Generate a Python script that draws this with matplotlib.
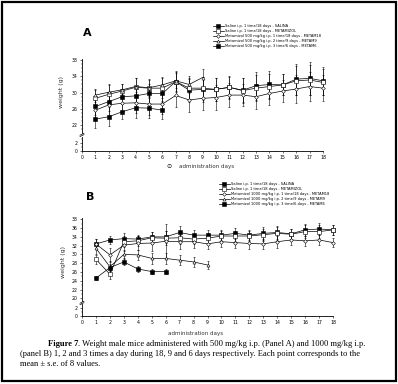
import matplotlib
matplotlib.use("Agg")
import matplotlib.pyplot as plt
from matplotlib.lines import Line2D
from matplotlib.patches import Rectangle

W, H = 398, 384

days = list(range(1, 19))
days9 = list(range(1, 10))
days6 = list(range(1, 7))

# ---- panel A (500 mg/kg) ----
labels_a = ["Saline i.p. 1 time/18 days - SALINA",
            "Saline i.p. 1 time/18 days - METAMIZOL",
            "Metamizol 500 mg/kg i.p. 1 time/18 days - METAM18",
            "Metamizol 500 mg/kg i.p. 2 time/9 days - METAM9",
            "Metamizol 500 mg/kg i.p. 3 time/6 days - METAM6"]
a_sal = [26.6, 27.8, 29.0, 29.2, 29.8, 29.8, 32.7, 30.6, 30.8, 30.8, 31.3, 30.6, 31.7, 32.0, 31.9, 33.3, 33.5, 32.9]
a_sal_err = [2.2, 2.4, 1.8, 2.6, 2.4, 2.2, 2.6, 2.8, 3.0, 2.8, 2.8, 3.0, 3.4, 3.2, 2.6, 3.8, 4.0, 3.4]
a_veh = [28.6, 29.6, 30.4, 31.3, 31.1, 31.1, 32.7, 31.1, 31.1, 30.8, 31.3, 30.5, 31.1, 31.5, 31.9, 32.9, 33.1, 32.5]
a_veh_err = [2.0, 2.2, 1.6, 2.4, 2.2, 2.4, 2.4, 2.6, 2.8, 2.8, 2.6, 3.0, 3.2, 3.0, 2.6, 3.6, 3.8, 3.2]
a_m18 = [25.7, 27.0, 27.4, 27.5, 27.2, 27.2, 29.3, 28.2, 28.6, 28.8, 29.4, 29.4, 29.0, 29.8, 30.4, 30.9, 31.5, 31.1]
a_m18_err = [2.4, 2.6, 2.2, 2.6, 2.6, 2.4, 2.8, 3.0, 2.8, 3.0, 3.0, 2.8, 3.0, 2.8, 2.6, 3.4, 3.6, 3.2]
a_m9 = [29.4, 30.1, 30.7, 31.5, 31.2, 31.9, 32.9, 32.0, 33.7]
a_m9_err = [1.6, 2.0, 1.4, 2.2, 2.0, 2.0, 1.8, 2.2, 2.2]
a_m6 = [23.5, 24.1, 25.3, 26.3, 26.2, 25.7]
a_m6_err = [2.2, 2.4, 1.8, 2.6, 2.4, 2.2]

# ---- panel B (1000 mg/kg) ----
labels_b = ["Saline i.p. 1 time/18 days - SALINA",
            "Saline i.p. 1 time/18 days - METAMIZOL",
            "Metamizol 1000 mg/kg i.p. 1 time/18 days - METAM18",
            "Metamizol 1000 mg/kg i.p. 2 time/9 days - METAM9",
            "Metamizol 1000 mg/kg i.p. 3 time/6 days - METAM6"]
b_sal = [32.4, 33.3, 33.6, 33.5, 34.0, 34.0, 35.0, 34.4, 34.4, 34.4, 34.8, 34.4, 34.8, 35.0, 34.7, 35.6, 35.8, 35.6]
b_sal_err = [1.2, 1.0, 1.2, 1.0, 1.2, 1.4, 1.4, 1.2, 1.2, 1.2, 1.2, 1.2, 1.4, 1.4, 1.2, 1.4, 1.4, 1.2]
b_veh = [28.9, 25.5, 32.9, 33.1, 33.8, 33.7, 33.8, 33.5, 33.7, 34.2, 34.2, 34.2, 34.5, 34.8, 34.6, 35.2, 35.2, 35.6]
b_veh_err = [1.0, 1.0, 1.2, 1.2, 1.4, 1.6, 1.4, 1.2, 1.2, 1.2, 1.2, 1.2, 1.4, 1.4, 1.2, 1.4, 1.4, 1.2]
b_m18 = [32.4, 29.9, 32.1, 32.5, 32.6, 33.0, 32.9, 32.9, 32.4, 32.9, 32.7, 32.5, 32.4, 32.9, 33.3, 33.1, 33.3, 32.7]
b_m18_err = [1.2, 1.6, 1.4, 1.6, 1.8, 4.0, 1.6, 1.4, 1.2, 1.2, 1.2, 1.2, 1.2, 1.4, 1.2, 1.2, 1.2, 1.0]
b_m9 = [31.4, 27.2, 30.0, 29.9, 29.1, 29.1, 28.7, 28.3, 27.6]
b_m9_err = [1.2, 1.4, 1.0, 1.2, 1.2, 1.2, 1.2, 1.2, 1.0]
b_m6 = [24.6, 27.0, 28.3, 26.7, 26.1, 26.1]
b_m6_err = [0.5, 0.8, 0.8, 0.7, 0.6, 0.6]

markers = [("s", "black", 2.4), ("s", "white", 2.6), ("D", "white", 1.9), ("^", "white", 2.2), ("s", "black", 2.2)]

fig = plt.figure(figsize=(W / 100, H / 100), dpi=100)
fig.patch.set_facecolor("white")
fig.add_artist(Rectangle((1.5 / W, 1 - 381 / H), 394 / W, 379.5 / H, transform=fig.transFigure,
                         fill=False, lw=1.6, ec="black"))


def px_axes(x0, y0, x1, y1):
    return fig.add_axes([x0 / W, 1 - y1 / H, (x1 - x0) / W, (y1 - y0) / H])


def panel(x0, x1, top_px, brk_px, low_top, zero_px, ylim_up, yticks_up, series, labels, letter, letter_xy,
          leg_xy, ylab_xy, xlab_x, xlab_y):
    up = px_axes(x0, top_px, x1, brk_px)
    lo = px_axes(x0, low_top, x1, zero_px)
    for ax in (up, lo):
        ax.set_facecolor("none")
        ax.set_xlim(0, 18)
        for s in ("top", "right"):
            ax.spines[s].set_visible(False)
        ax.spines["left"].set_linewidth(0.6)
        ax.spines["bottom"].set_linewidth(0.6)
        ax.tick_params(length=1.5, width=0.4, labelsize=3.3, pad=1.5)
        ax.tick_params(which="minor", length=0.8, width=0.3)
    up.spines["bottom"].set_visible(False)
    up.tick_params(axis="x", which="both", bottom=False, labelbottom=False)
    up.set_ylim(*ylim_up)
    up.set_yticks(yticks_up)
    up.set_yticks(range(int(ylim_up[0]) + 1, int(ylim_up[1]) + 1), minor=True)
    lo.set_ylim(0, (zero_px - low_top) / 4.0)
    lo.set_yticks([0, 2])
    lo.set_yticks([1, 3], minor=True)
    lo.set_xticks(range(0, 19))
    lo.set_xticks([d + 0.5 for d in range(18)], minor=True)

    for (x, y, e), (m, fc, ms) in zip(series, markers):
        up.errorbar(x, y, yerr=e, color="black", lw=0.5, elinewidth=0.4, capsize=0.8, capthick=0.4,
                    marker=m, mfc=fc, mec="black", mew=0.4, ms=ms, clip_on=False)

    # axis break marks
    for yy in (brk_px + 1.2, brk_px + 2.6):
        fig.add_artist(Line2D([(x0 - 2) / W, (x0 + 2) / W], [1 - (yy + 1) / H, 1 - (yy - 1) / H],
                              transform=fig.transFigure, color="black", lw=0.5))

    fig.text(letter_xy[0] / W, 1 - letter_xy[1] / H, letter, fontsize=8, fontweight="bold", ha="left", va="center")
    fig.text(ylab_xy[0] / W, 1 - ylab_xy[1] / H, "weight (g)", fontsize=4.5, rotation=90, ha="center", va="center",
             color="#333333")
    fig.text(xlab_x / W, 1 - xlab_y / H, "administration days", fontsize=4, ha="center", va="center",
             color="#333333")

    handles = [Line2D([], [], color="black", lw=0.5, marker=m, mfc=fc, mec="black", mew=0.4, ms=ms)
               for (m, fc, ms) in markers]
    fig.legend(handles, labels, loc="upper left", bbox_to_anchor=(leg_xy[0] / W, 1 - leg_xy[1] / H),
               frameon=False, fontsize=2.6, handlelength=3.0, handletextpad=0.4, labelspacing=0.3,
               borderpad=0, borderaxespad=0)
    return up, lo


series_a = [(days, a_sal, a_sal_err), (days, a_veh, a_veh_err), (days, a_m18, a_m18_err),
            (days9, a_m9, a_m9_err), (days6, a_m6, a_m6_err)]
series_b = [(days, b_sal, b_sal_err), (days, b_veh, b_veh_err), (days, b_m18, b_m18_err),
            (days9, b_m9, b_m9_err), (days6, b_m6, b_m6_err)]

panel(82, 323, 59.2, 133, 137, 151, (20.1, 38.2), [22, 26, 30, 34, 38], series_a, labels_a, "A", (83, 33),
      (213, 24), (61, 92), 207, 166)
fig.text(169 / W, 1 - 166 / H, "\u2299", fontsize=4.5, ha="center", va="center")
panel(82, 333, 218, 301, 304, 316, (19.4, 38.3), list(range(20, 39, 2)), series_b, labels_b, "B", (86, 197),
      (219, 182), (63, 262), 196, 333)

serif = ["Liberation Serif", "DejaVu Serif"]
fs = 6.1
bold = fig.text(48 / W, 1 - 344 / H, "Figure 7", fontsize=fs, family=serif, fontweight="bold", va="center")
fig.canvas.draw()
bb = bold.get_window_extent()
fig.text(bb.x1 / W, 1 - 344 / H, ". Weight male mice administered with 500 mg/kg i.p. (Panel A) and 1000 mg/kg i.p.",
         fontsize=fs, family=serif, va="center")
fig.text(20 / W, 1 - 354 / H, "(panel B) 1, 2 and 3 times a day during 18, 9 and 6 days respectively. "
         "Each point corresponds to the", fontsize=fs, family=serif, va="center")
fig.text(20 / W, 1 - 364 / H, "mean \u00b1 s.e. of 8 values.", fontsize=fs, family=serif, va="center")

fig.savefig("out.png", dpi=100)
